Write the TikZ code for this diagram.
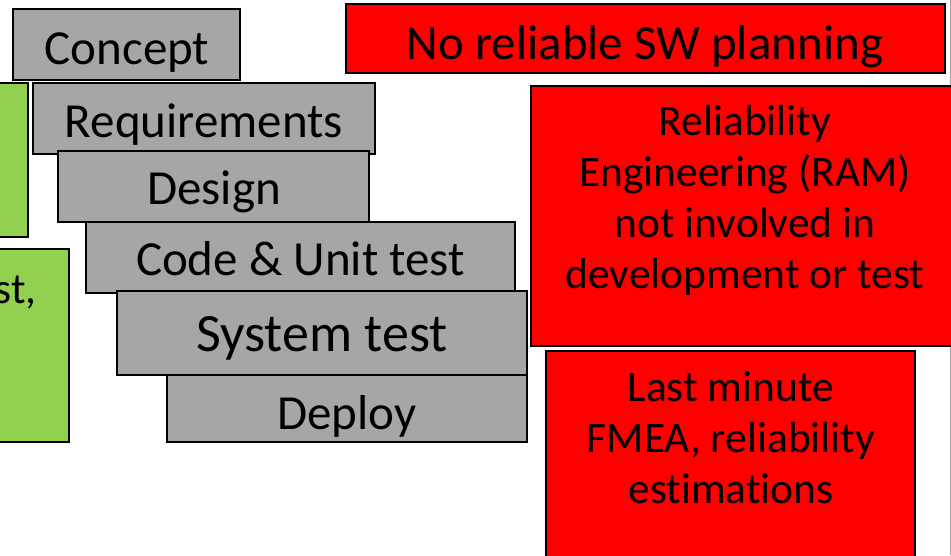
\documentclass[tikz,border=0pt]{standalone}
\usepackage{fontspec}
\setmainfont[Ligatures=NoCommon]{Carlito}
\usetikzlibrary{fit}
\definecolor{stepgray}{HTML}{A6A6A6}
\definecolor{okgreen}{HTML}{92D050}
\definecolor{alertred}{HTML}{FF0000}
\definecolor{framegray}{HTML}{A0A0A0}
\begin{document}
\begin{tikzpicture}[x=1pt,y=-1pt,
  box/.style={rectangle, inner sep=0pt, draw=black},
  phasebox/.style={box, fill=stepgray, line width=1.3pt},
  greenbox/.style={box, fill=okgreen, line width=1.3pt},
  redbox/.style={box, fill=alertred, line width=1.8pt},
  lbl/.style={anchor=base, inner sep=0pt, text=black},
  big/.style={font=\fontsize{49}{58}\selectfont},
  mid/.style={font=\fontsize{43.5}{51}\selectfont, align=center}
]
\useasboundingbox (0,0) rectangle (951,555);
\fill[white] (0,0) rectangle (951,555);

% slide edge on the right
\coordinate (edgetop) at (950,0);
\coordinate (edgebot) at (950,555);
\draw[framegray, line width=1pt] (edgetop) -- (edgebot);

% green boxes cut by the left edge
\node[greenbox, fit={(-10,83) (28,237)}] (green1) {};
\node[greenbox, fit={(-10,249) (69,442)}] (green2) {};
\node[lbl, anchor=base east, font=\fontsize{43.5}{51}\selectfont] (green2t) at (37,303) {st,};

% development phases, each one laid over the previous
\node[phasebox, fit={(13,9) (240,80)}] (concept) {};
\node[lbl, big] (conceptt) at (127,64) {Concept};
\node[phasebox, fit={(33,83) (375,154)}] (req) {};
\node[lbl, big] (reqt) at (204,137) {Requirements};
\node[phasebox, fit={(58,151) (369,222)}] (design) {};
\node[lbl, big] (designt) at (214,204) {Design};
\node[phasebox, fit={(86,222) (515,293)}] (code) {};
\node[lbl, big] (codet) at (300.5,275) {Code \& Unit test};
\node[phasebox, fit={(117,291) (527,375)}] (system) {};
\node[lbl, font=\fontsize{54}{64}\selectfont] (systemt) at (322,351) {System test};
\node[phasebox, fit={(167,375) (527,442)}] (deploy) {};
\node[lbl, big] (deployt) at (347,429) {Deploy};

% problems
\node[redbox, fit={(346,4) (945,73)}] (noplan) {};
\node[lbl, big] (noplant) at (645,59) {No reliable SW planning};
\node[redbox, fit={(531,86) (965,346)}] (ram) {};
\node[lbl, mid] (ramt) at (745,288) {Reliability\\Engineering (RAM)\\not involved in\\development or test};
\node[redbox, fit={(546,351) (915,565)}] (fmea) {};
\node[lbl, mid] (fmeat) at (731,503) {Last minute\\FMEA, reliability\\estimations};
\end{tikzpicture}
\end{document}
